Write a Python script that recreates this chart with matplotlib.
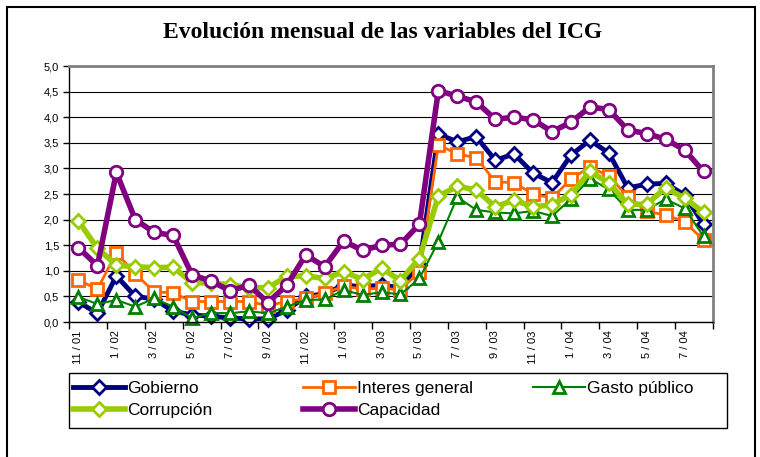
import numpy as np
import matplotlib.pyplot as plt
from matplotlib.patches import Rectangle

# months 11/01 .. 8/04
meses = ['11 / 01', '12 / 01', '1 / 02', '2 / 02', '3 / 02', '4 / 02', '5 / 02', '6 / 02',
         '7 / 02', '8 / 02', '9 / 02', '10 / 02', '11 / 02', '12 / 02', '1 / 03', '2 / 03',
         '3 / 03', '4 / 03', '5 / 03', '6 / 03', '7 / 03', '8 / 03', '9 / 03', '10 / 03',
         '11 / 03', '12 / 03', '1 / 04', '2 / 04', '3 / 04', '4 / 04', '5 / 04', '6 / 04',
         '7 / 04', '8 / 04']

gobierno = [0.39, 0.17, 0.90, 0.50, 0.45, 0.21, 0.14, 0.11, 0.08, 0.06, 0.06, 0.23,
            0.50, 0.55, 0.72, 0.69, 0.72, 0.67, 1.11, 3.67, 3.52, 3.62, 3.16, 3.28,
            2.91, 2.72, 3.26, 3.55, 3.30, 2.62, 2.69, 2.71, 2.48, 1.91]
interes = [0.82, 0.64, 1.35, 0.94, 0.59, 0.57, 0.40, 0.40, 0.40, 0.40, 0.32, 0.40,
           0.46, 0.56, 0.70, 0.64, 0.66, 0.63, 0.98, 3.46, 3.28, 3.21, 2.74, 2.72,
           2.50, 2.42, 2.79, 3.03, 2.85, 2.45, 2.16, 2.09, 1.96, 1.60]
gasto = [0.49, 0.35, 0.43, 0.30, 0.46, 0.30, 0.07, 0.18, 0.17, 0.21, 0.17, 0.30,
         0.43, 0.44, 0.62, 0.53, 0.58, 0.54, 0.85, 1.57, 2.44, 2.19, 2.14, 2.12,
         2.17, 2.07, 2.40, 2.80, 2.59, 2.19, 2.19, 2.40, 2.22, 1.67]
corrupcion = [1.97, 1.44, 1.11, 1.08, 1.06, 1.07, 0.77, 0.76, 0.73, 0.67, 0.67, 0.89,
              0.90, 0.85, 0.98, 0.83, 1.05, 0.81, 1.24, 2.46, 2.65, 2.58, 2.25, 2.38,
              2.25, 2.29, 2.49, 2.94, 2.72, 2.30, 2.30, 2.62, 2.42, 2.14]
capacidad = [1.45, 1.10, 2.92, 2.00, 1.75, 1.69, 0.92, 0.80, 0.61, 0.72, 0.38, 0.72,
             1.31, 1.08, 1.58, 1.40, 1.50, 1.52, 1.91, 4.52, 4.41, 4.30, 3.96, 4.00,
             3.95, 3.72, 3.90, 4.20, 4.15, 3.75, 3.68, 3.57, 3.36, 2.94]

plt.rcParams['font.family'] = ['Liberation Sans', 'DejaVu Sans']

W, H = 760, 457
fig = plt.figure(figsize=(W / 100, H / 100), dpi=100)

# outer chart frame
fig.patches.append(Rectangle((7 / W, -0.1), (755 - 7) / W, 0.1 + 1 - 7 / H,
                             transform=fig.transFigure, fill=False,
                             edgecolor='black', linewidth=1.5))

fig.text(0.503, 1 - 33 / H, 'Evolución mensual de las variables del ICG',
         ha='center', va='center', fontsize=17, fontweight='bold',
         family='Liberation Serif')

ax = fig.add_axes([69 / W, 1 - 322 / H, (713 - 69) / W, (322 - 66) / H])
x = np.arange(len(meses))

estilos = [
    ('Gobierno', gobierno, '#000080', 3.5, 'D', 7),
    ('Interes general', interes, '#FF6600', 2.0, 's', 8),
    ('Gasto público', gasto, '#008000', 1.5, '^', 9),
    ('Corrupción', corrupcion, '#99CC00', 4.0, 'D', 7),
    ('Capacidad', capacidad, '#800080', 4.0, 'o', 9),
]
lineas = {}
for nombre, serie, col, lw, mk, ms in estilos:
    ln, = ax.plot(x, serie, color=col, lw=lw, marker=mk, ms=ms, mfc='white',
                  mec=col, mew=2, label=nombre, clip_on=False)
    lineas[nombre] = ln

ax.set_xlim(-0.5, len(meses) - 0.5)
ax.set_ylim(0, 5)
yt = np.arange(0, 5.01, 0.5)
ax.set_yticks(yt)
ax.set_yticklabels([f'{v:.1f}'.replace('.', ',') for v in yt], fontsize=8)
ax.grid(axis='y', color='black', lw=0.8)
ax.set_axisbelow(True)

ax.set_xticks(x[::2])
ax.set_xticklabels(meses[::2], rotation=90, fontsize=8)
ax.set_xticks(np.arange(-0.5, len(meses), 2), minor=True)
ax.tick_params(axis='x', which='major', length=0, pad=6)
ax.tick_params(axis='x', which='minor', length=5, direction='out', width=1)
ax.tick_params(axis='y', length=4, width=1, pad=3)

for s in ['top', 'right']:
    ax.spines[s].set_color('#808080')
    ax.spines[s].set_linewidth(2)
for s in ['left', 'bottom']:
    ax.spines[s].set_color('black')
    ax.spines[s].set_linewidth(1)

# legend box and three columns
fig.patches.append(Rectangle((69 / W, 1 - 428 / H), (727 - 69) / W, (428 - 373) / H,
                             transform=fig.transFigure, fill=False,
                             edgecolor='black', linewidth=1))
columnas = [(['Gobierno', 'Corrupción'], 73),
            (['Interes general', 'Capacidad'], 303),
            (['Gasto público'], 533)]
for nombres, x0 in columnas:
    fig.legend([lineas[n] for n in nombres], nombres, loc='upper left',
               bbox_to_anchor=(x0 / W, 1 - 381 / H), frameon=False,
               fontsize=12.5, handlelength=3.0, handletextpad=0.1,
               labelspacing=0.4, borderpad=0, borderaxespad=0)

fig.savefig('out.png', dpi=100)
